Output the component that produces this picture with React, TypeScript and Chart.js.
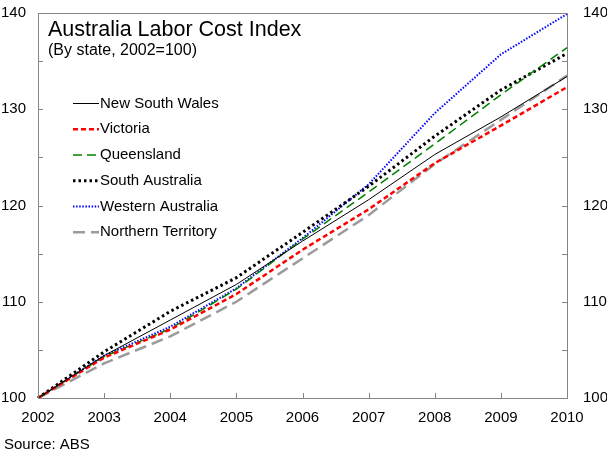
import React, { useEffect, useRef } from "react";
import { Chart, registerables } from "chart.js";

Chart.register(...registerables);

const years = ["2002", "2003", "2004", "2005", "2006", "2007", "2008", "2009", "2010"];
const nsw = [100, 104.4, 108.1, 111.8, 116.3, 120.6, 125.3, 129.2, 133.4];
const vic = [100, 104.2, 107.1, 110.8, 115.4, 119.6, 124.4, 128.3, 132.3];
const qld = [100, 104.3, 107.2, 111.3, 116.5, 121.4, 126.4, 131.5, 136.4];
const sa = [100, 104.8, 109.0, 112.5, 117.2, 122.0, 127.2, 132.0, 135.8];
const wa = [100, 104.4, 107.4, 111.4, 116.6, 122.2, 129.6, 135.7, 139.9];
const nt = [100, 103.6, 106.4, 110.0, 114.5, 119.0, 124.3, 128.9, 133.5];

const titleText = "Australia Labor Cost Index";
const subtitleText = "(By state, 2002=100)";
const sourceText = "Source: ABS";

const FONT = "'Liberation Sans', Arial, sans-serif";
const AXIS = "#868686";

const overlayPlugin = {
  id: "overlay",
  afterDraw(chart: any) {
    const ctx = chart.ctx;
    const { left, right, top, bottom } = chart.chartArea;
    const y = chart.scales.y;
    const x = chart.scales.x;
    ctx.save();
    // frame
    ctx.strokeStyle = AXIS;
    ctx.lineWidth = 1;
    ctx.setLineDash([]);
    ctx.strokeRect(Math.round(left) + 0.5, Math.round(top) + 0.5, Math.round(right - left), Math.round(bottom - top));
    // ticks
    ctx.beginPath();
    for (let v = 100; v <= 140; v += 5) {
      const py = Math.round(y.getPixelForValue(v)) + 0.5;
      ctx.moveTo(left, py);
      ctx.lineTo(left + 5, py);
      ctx.moveTo(right, py);
      ctx.lineTo(right - 5, py);
    }
    for (let i = 0; i < years.length; i++) {
      const px = Math.round(x.getPixelForValue(i)) + 0.5;
      ctx.moveTo(px, bottom);
      ctx.lineTo(px, bottom - 5);
    }
    ctx.stroke();
    // title
    ctx.fillStyle = "#000";
    ctx.textAlign = "left";
    ctx.textBaseline = "alphabetic";
    ctx.font = `21.5px ${FONT}`;
    ctx.fillText(titleText, 48, 36);
    ctx.font = `16px ${FONT}`;
    ctx.fillText(subtitleText, 48, 55);
    // source
    ctx.font = `15px ${FONT}`;
    ctx.fillText(sourceText, 4, 449);
    // legend
    const rowY = [103.5, 129.2, 155, 180.8, 206.5, 232.2];
    chart.data.datasets.forEach((ds: any, i: number) => {
      const ry = rowY[i];
      ctx.strokeStyle = ds.borderColor;
      ctx.lineWidth = ds.borderWidth;
      ctx.setLineDash(ds.borderDash || []);
      ctx.beginPath();
      ctx.moveTo(73, ry);
      ctx.lineTo(99, ry);
      ctx.stroke();
      ctx.setLineDash([]);
      ctx.fillStyle = "#000";
      ctx.textBaseline = "middle";
      ctx.font = `15px ${FONT}`;
      ctx.fillText(ds.label, 100, ry);
    });
    ctx.restore();
  },
};

export default function App() {
  const ref = useRef<HTMLCanvasElement>(null);
  useEffect(() => {
    const canvas = ref.current!;
    const mk = (label: string, data: number[], color: string, width: number, dash: number[]) => ({
      label,
      data,
      borderColor: color,
      backgroundColor: color,
      borderWidth: width,
      borderDash: dash,
      pointRadius: 0,
      tension: 0,
      fill: false,
    });
    const tickFont = { family: FONT, size: 15, lineHeight: 1 };
    const chart = new Chart(canvas, {
      type: "line",
      data: {
        labels: years,
        datasets: [
          mk("New South Wales", nsw, "#000000", 1, []),
          mk("Victoria", vic, "#FF0000", 2.5, [5, 3]),
          mk("Queensland", qld, "#008000", 1.5, [9, 5]),
          mk("South Australia", sa, "#000000", 3, [2.5, 3]),
          mk("Western Australia", wa, "#0000FF", 2, [1.5, 1.6]),
          mk("Northern Territory", nt, "#9B9B9B", 2.5, [12, 6]),
        ],
      },
      options: {
        animation: false,
        responsive: false,
        devicePixelRatio: 1,
        layout: { padding: { top: 13, left: 0, right: 0, bottom: 0 } },
        plugins: { legend: { display: false }, title: { display: false }, tooltip: { enabled: false } },
        scales: {
          x: {
            type: "category",
            offset: false,
            grid: { display: false, drawTicks: true, tickLength: 12 },
            border: { display: false },
            ticks: { color: "#000", font: tickFont, padding: 0, maxRotation: 0, autoSkip: false },
            afterFit: (s: any) => { s.height = 56; },
          },
          y: {
            position: "left",
            min: 100,
            max: 140,
            grid: { display: false, drawTicks: true, tickLength: 12 },
            border: { display: false },
            ticks: {
              stepSize: 5,
              color: "#000",
              font: tickFont,
              padding: 0,
              callback: (v: any) => (Number(v) % 10 === 0 ? String(v) : ""),
            },
            afterFit: (s: any) => { s.width = 38; },
          },
          y2: {
            position: "right",
            display: true,
            min: 100,
            max: 140,
            grid: { display: false, drawTicks: true, tickLength: 16 },
            border: { display: false },
            ticks: {
              stepSize: 5,
              color: "#000",
              font: tickFont,
              padding: 0,
              callback: (v: any) => (Number(v) % 10 === 0 ? String(v) : ""),
            },
            afterFit: (s: any) => { s.width = 40; },
          },
        },
      } as any,
      plugins: [overlayPlugin],
    });
    return () => chart.destroy();
  }, []);
  return (
    <div style={{ position: "absolute", left: 0, top: 0, width: 607, height: 454, background: "#fff" }}>
      <canvas ref={ref} width={607} height={454} style={{ width: 607, height: 454, display: "block" }} />
    </div>
  );
}
